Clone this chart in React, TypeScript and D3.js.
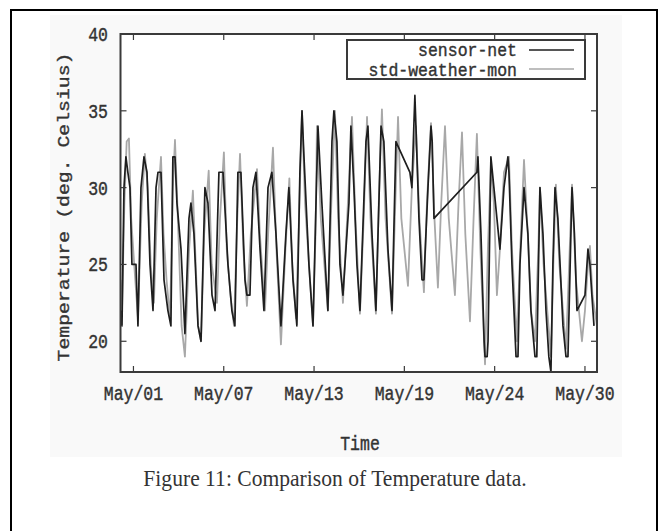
import React from "react";
import * as d3 from "d3";

// x = days since May/01 00:00, y = temperature (deg. Celsius)
const sensorNet: [number, number][] = [
  [-0.86, 22], [-0.76, 21], [-0.63, 30], [-0.5, 32], [-0.37, 31], [-0.23, 30], [-0.1, 25], [0.17, 25], [0.3, 21],
  [0.5, 30], [0.7, 32], [0.9, 31], [1.1, 25], [1.3, 22],
  [1.5, 30], [1.63, 31], [1.83, 31], [2.03, 24], [2.29, 22], [2.49, 21],
  [2.62, 32], [2.76, 32], [2.89, 29], [3.16, 26], [3.42, 20.5],
  [3.69, 28], [3.82, 29], [4.02, 27], [4.29, 21], [4.49, 20],
  [4.75, 30], [4.95, 29], [5.22, 23], [5.42, 22],
  [5.68, 31], [5.95, 31], [6.28, 25], [6.54, 22], [6.74, 21],
  [6.94, 31], [7.14, 31], [7.41, 24], [7.54, 23], [7.74, 23],
  [7.94, 30], [8.14, 31], [8.41, 26], [8.67, 22],
  [8.94, 30], [9.2, 31], [9.47, 27], [9.8, 21],
  [10.13, 27], [10.33, 30], [10.6, 24], [10.86, 21],
  [11.06, 31], [11.2, 35], [11.33, 32], [11.66, 25], [11.93, 21],
  [12.13, 29], [12.26, 34], [12.52, 29], [12.92, 22],
  [13.19, 33], [13.32, 35], [13.52, 33], [13.72, 25], [13.92, 23],
  [14.32, 29], [14.45, 34], [14.65, 30], [14.85, 25], [15.05, 22],
  [15.45, 33], [15.58, 34], [15.85, 27], [16.11, 22],
  [16.45, 34], [16.64, 33], [16.91, 26], [17.18, 22],
  [17.44, 33], [18.37, 31], [18.5, 30], [18.63, 34], [18.7, 36], [18.77, 34], [18.97, 28], [19.17, 24], [19.3, 24],
  [19.57, 30], [19.77, 34], [19.85, 33], [19.97, 28],
  [22.82, 31], [22.89, 32], [23.09, 27], [23.3, 20], [23.36, 19], [23.5, 19], [23.56, 20],
  [23.75, 32], [23.95, 30], [24.15, 28], [24.35, 26], [24.62, 30], [24.88, 32], [24.95, 31], [25.15, 25], [25.42, 19], [25.55, 19],
  [25.68, 25], [25.95, 30], [26.21, 27], [26.41, 22], [26.68, 19], [26.8, 19],
  [27.01, 30], [27.21, 27], [27.41, 22], [27.6, 19], [27.74, 18],
  [27.87, 25], [28.01, 30], [28.2, 28], [28.54, 21], [28.74, 19], [28.87, 19],
  [29.14, 30], [29.3, 27], [29.47, 22],
  [30.0, 23], [30.2, 26], [30.33, 25], [30.46, 23], [30.6, 21],
];

const stdWeatherMon: [number, number][] = [
  [-0.86, 24], [-0.76, 22], [-0.6, 29], [-0.45, 33], [-0.3, 33.2], [-0.15, 28], [0.05, 25], [0.3, 21.5],
  [0.55, 29], [0.76, 32.2], [0.95, 30], [1.15, 25], [1.36, 22.5],
  [1.55, 28], [1.83, 32], [2.0, 27], [2.2, 24], [2.43, 21.5],
  [2.62, 30], [2.76, 33.1], [2.95, 28], [3.2, 21], [3.42, 19],
  [3.7, 26], [3.95, 29.8], [4.1, 26], [4.3, 21], [4.49, 20],
  [4.7, 27], [5.0, 31.1], [5.2, 25], [5.55, 22.5],
  [5.75, 28], [6.01, 32.3], [6.2, 26], [6.45, 23], [6.68, 21],
  [6.9, 28], [7.08, 32.2], [7.3, 26], [7.54, 22.3],
  [7.8, 27], [8.21, 31.2], [8.4, 27], [8.74, 22],
  [8.95, 27], [9.27, 32.6], [9.5, 26], [9.8, 19.8],
  [10.1, 26], [10.36, 30.6], [10.55, 25], [10.8, 21.5],
  [11.0, 28], [11.2, 35], [11.4, 29], [11.93, 21],
  [12.1, 27], [12.19, 34], [12.45, 28], [12.92, 22],
  [13.15, 29], [13.39, 35], [13.6, 28], [13.92, 22.5],
  [14.2, 28], [14.52, 34.6], [14.75, 28], [15.05, 21.8],
  [15.3, 28], [15.52, 34.6], [15.75, 28], [16.11, 21.8],
  [16.3, 29], [16.51, 35.1], [16.75, 28], [17.18, 21.8],
  [17.4, 29], [17.58, 34.6], [17.8, 28], [18.24, 23.6],
  [18.5, 30], [18.77, 34], [19.0, 28], [19.3, 23.2],
  [19.5, 29], [19.77, 34.2], [20.0, 28], [20.23, 23.5],
  [20.45, 29], [20.7, 34], [20.95, 28], [21.36, 23],
  [21.6, 29], [21.83, 33.6], [22.05, 27], [22.36, 21.3],
  [22.6, 28], [22.82, 33.5], [23.05, 26], [23.36, 18.5],
  [23.55, 26], [23.75, 31.5], [23.95, 29], [24.15, 23], [24.35, 26], [24.62, 31], [24.95, 32], [25.15, 26], [25.48, 20],
  [25.7, 26], [25.95, 31.8], [26.2, 27], [26.41, 22], [26.68, 20],
  [26.9, 26], [27.01, 30], [27.25, 25], [27.74, 19],
  [27.9, 25], [28.07, 30.2], [28.3, 25], [28.74, 19.5],
  [28.95, 25], [29.14, 30.2], [29.4, 24], [29.8, 20],
  [30.0, 22], [30.2, 25], [30.33, 26.2], [30.5, 23], [30.8, 21],
];

const xTickDays = [0, 6, 12, 18, 24, 30];
const xTickLabels = ["May/01", "May/07", "May/13", "May/19", "May/24", "May/30"];
const yTicks = [20, 25, 30, 35, 40];
const seriesNames = ["sensor-net", "std-weather-mon"];
const seriesColors = ["#1e1e1e", "#a8a8a8"];
const yTitle = "Temperature (deg. Celsius)";
const xTitle = "Time";
const caption = "Figure 11: Comparison of Temperature data.";

const L = 120.5, R = 597, T = 34, B = 372;
const mono = "'Liberation Mono', 'DejaVu Sans Mono', monospace";
const SY = 1.2;

export default function App() {
  const x = d3.scaleLinear().domain([-0.86, 30.8]).range([L, R]);
  const y = d3.scaleLinear().domain([18, 40]).range([B, T]);
  const line = d3.line<[number, number]>().x((d) => x(d[0])).y((d) => y(d[1]));
  const axisColor = "#3a3a3a";
  const textColor = "#333";
  const tick = 6;

  const hText = (
    tx: number,
    ty: number,
    s: string,
    anchor: string,
    size = 16.5,
    family = mono,
    sy = SY,
    sw = 0.35
  ) => (
    <text
      transform={`translate(${tx},${ty}) scale(1,${sy})`}
      textAnchor={anchor as any}
      dy="0.35em"
      fontFamily={family}
      fontSize={size}
      fill={textColor}
      stroke={sw > 0 ? textColor : "none"}
      strokeWidth={sw}
    >
      {s}
    </text>
  );

  return (
    <svg width={664} height={531} style={{ position: "absolute", left: 0, top: 0, background: "#fff" }}>
      <rect x={0} y={0} width={664} height={531} fill="#fff" />
      <rect x={50} y={15} width={572} height={442} fill="#f9f9f9" />
      <rect x={11} y={10} width={646} height={540} fill="none" stroke="#000" strokeWidth={2} />

      <defs>
        <clipPath id="plotclip">
          <rect x={L} y={T} width={R - L} height={B - T} />
        </clipPath>
      </defs>
      <rect x={L} y={T} width={R - L} height={B - T} fill="#fff" />

      <g clipPath="url(#plotclip)" fill="none" strokeLinejoin="round">
        <path d={line(stdWeatherMon) || ""} stroke={seriesColors[1]} strokeWidth={1.8} />
        <path d={line(sensorNet) || ""} stroke={seriesColors[0]} strokeWidth={1.7} />
      </g>

      {/* ticks */}
      <g stroke={axisColor} strokeWidth={1.2}>
        {xTickDays.map((d) => (
          <g key={"xt" + d}>
            <line x1={x(d)} x2={x(d)} y1={B} y2={B - tick} />
            <line x1={x(d)} x2={x(d)} y1={T} y2={T + tick} />
          </g>
        ))}
        {yTicks.map((v) => (
          <g key={"yt" + v}>
            <line x1={L} x2={L + tick} y1={y(v)} y2={y(v)} />
            <line x1={R} x2={R - tick} y1={y(v)} y2={y(v)} />
          </g>
        ))}
      </g>

      <rect x={L} y={T} width={R - L} height={B - T} fill="none" stroke={axisColor} strokeWidth={2} />

      {/* legend */}
      <rect x={347} y={40} width={238} height={39} fill="#fff" stroke={axisColor} strokeWidth={2} />
      {seriesNames.map((n, i) => (
        <g key={n}>
          {hText(517, 50 + i * 20, n, "end", 16.5, mono, 1.08)}
          <line x1={529} x2={574} y1={50 + i * 19} y2={50 + i * 19} stroke={seriesColors[i]} strokeWidth={1.6} />
        </g>
      ))}

      {/* tick labels */}
      {xTickDays.map((d, i) => (
        <g key={"xl" + d}>{hText(x(d), 393, xTickLabels[i], "middle")}</g>
      ))}
      {yTicks.map((v) => (
        <g key={"yl" + v}>{hText(108, y(v), String(v), "end")}</g>
      ))}

      <text
        transform={`translate(63,207) rotate(-90) scale(${SY},1)`}
        textAnchor="middle"
        dy="0.35em"
        fontFamily={mono}
        fontSize={16.5}
        fill={textColor}
        stroke={textColor}
        strokeWidth={0.35}
      >
        {yTitle}
      </text>
      {hText(360, 443, xTitle, "middle")}
      {hText(335, 478, caption, "middle", 21.6, "'Liberation Serif', 'Times New Roman', serif", 1.1, 0)}
    </svg>
  );
}
